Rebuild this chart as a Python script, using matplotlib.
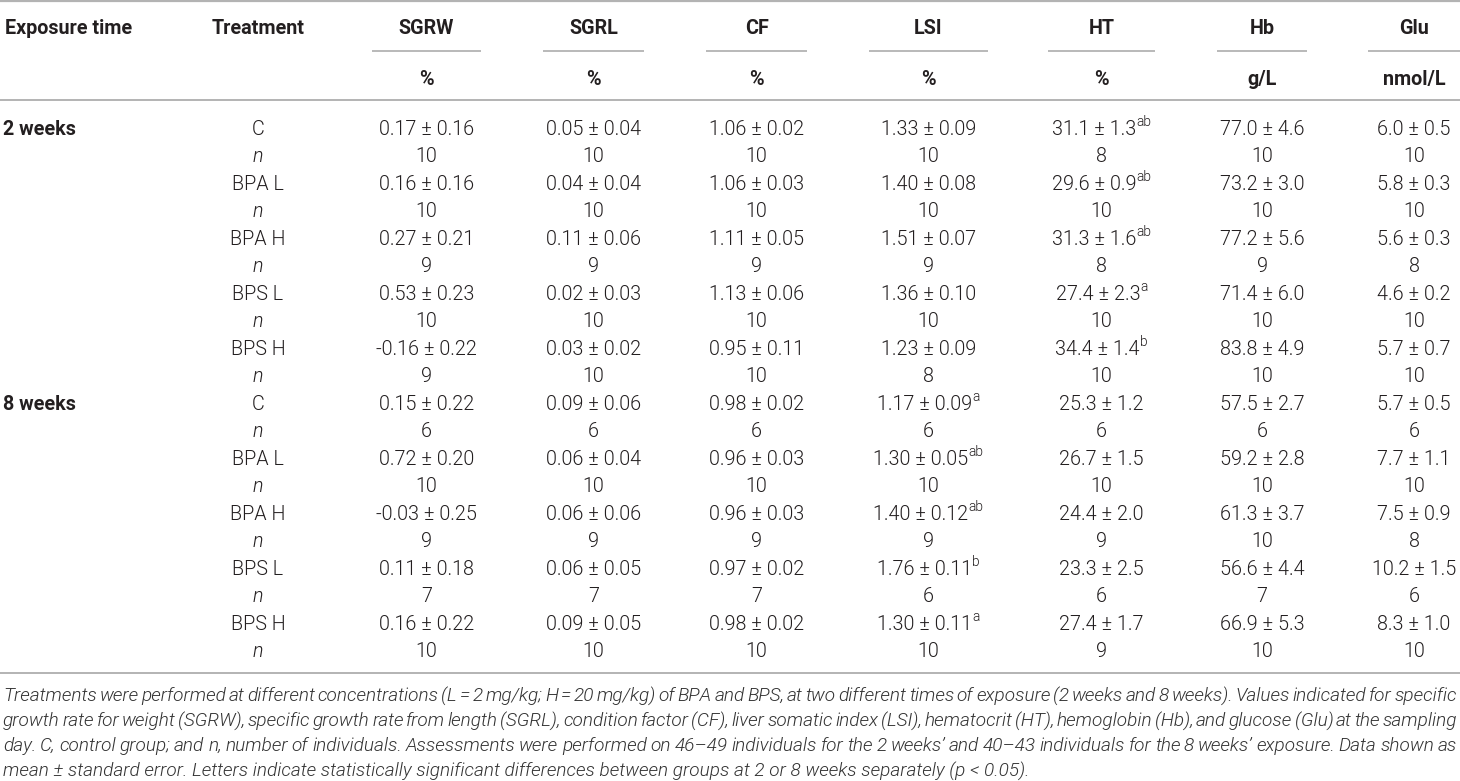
import matplotlib
matplotlib.use('Agg')
import matplotlib.pyplot as plt
from matplotlib import font_manager

# ---------------- data ----------------
exposure_labels = ["2 weeks", "8 weeks"]
treatments = ["C", "BPA L", "BPA H", "BPS L", "BPS H"]
columns = ["SGRW", "SGRL", "CF", "LSI", "HT", "Hb", "Glu"]
units = ["%", "%", "%", "%", "%", "g/L", "nmol/L"]
decimals = [2, 2, 2, 2, 1, 1, 1]

# rows: 2 weeks C, BPA L, BPA H, BPS L, BPS H, 8 weeks C, BPA L, BPA H, BPS L, BPS H
sgrw_mean = [0.17, 0.16, 0.27, 0.53, -0.16, 0.15, 0.72, -0.03, 0.11, 0.16]
sgrw_se = [0.16, 0.16, 0.21, 0.23, 0.22, 0.22, 0.20, 0.25, 0.18, 0.22]
sgrw_n = [10, 10, 9, 10, 9, 6, 10, 9, 7, 10]

sgrl_mean = [0.05, 0.04, 0.11, 0.02, 0.03, 0.09, 0.06, 0.06, 0.06, 0.09]
sgrl_se = [0.04, 0.04, 0.06, 0.03, 0.02, 0.06, 0.04, 0.06, 0.05, 0.05]
sgrl_n = [10, 10, 9, 10, 10, 6, 10, 9, 7, 10]

cf_mean = [1.06, 1.06, 1.11, 1.13, 0.95, 0.98, 0.96, 0.96, 0.97, 0.98]
cf_se = [0.02, 0.03, 0.05, 0.06, 0.11, 0.02, 0.03, 0.03, 0.02, 0.02]
cf_n = [10, 10, 9, 10, 10, 6, 10, 9, 7, 10]

lsi_mean = [1.33, 1.40, 1.51, 1.36, 1.23, 1.17, 1.30, 1.40, 1.76, 1.30]
lsi_se = [0.09, 0.08, 0.07, 0.10, 0.09, 0.09, 0.05, 0.12, 0.11, 0.11]
lsi_n = [10, 10, 9, 10, 8, 6, 10, 9, 6, 10]
lsi_letters = ["", "", "", "", "", "a", "ab", "ab", "b", "a"]

ht_mean = [31.1, 29.6, 31.3, 27.4, 34.4, 25.3, 26.7, 24.4, 23.3, 27.4]
ht_se = [1.3, 0.9, 1.6, 2.3, 1.4, 1.2, 1.5, 2.0, 2.5, 1.7]
ht_n = [8, 10, 8, 10, 10, 6, 10, 9, 6, 9]
ht_letters = ["ab", "ab", "ab", "a", "b", "", "", "", "", ""]

hb_mean = [77.0, 73.2, 77.2, 71.4, 83.8, 57.5, 59.2, 61.3, 56.6, 66.9]
hb_se = [4.6, 3.0, 5.6, 6.0, 4.9, 2.7, 2.8, 3.7, 4.4, 5.3]
hb_n = [10, 10, 9, 10, 10, 6, 10, 10, 7, 10]

glu_mean = [6.0, 5.8, 5.6, 4.6, 5.7, 5.7, 7.7, 7.5, 10.2, 8.3]
glu_se = [0.5, 0.3, 0.3, 0.2, 0.7, 0.5, 1.1, 0.9, 1.5, 1.0]
glu_n = [10, 10, 8, 10, 10, 6, 10, 8, 6, 10]

no_letters = [""] * 10
col_means = [sgrw_mean, sgrl_mean, cf_mean, lsi_mean, ht_mean, hb_mean, glu_mean]
col_ses = [sgrw_se, sgrl_se, cf_se, lsi_se, ht_se, hb_se, glu_se]
col_ns = [sgrw_n, sgrl_n, cf_n, lsi_n, ht_n, hb_n, glu_n]
col_letters = [no_letters, no_letters, no_letters, lsi_letters, ht_letters, no_letters, no_letters]

footnote_lines = [
    "Treatments were performed at different concentrations (L = 2 mg/kg; H = 20 mg/kg) of BPA and BPS, at two different times of exposure (2 weeks and 8 weeks). Values indicated for specific",
    "growth rate for weight (SGRW), specific growth rate from length (SGRL), condition factor (CF), liver somatic index (LSI), hematocrit (HT), hemoglobin (Hb), and glucose (Glu) at the sampling",
    "day. C, control group; and n, number of individuals. Assessments were performed on 46\u201349 individuals for the 2 weeks\u2019 and 40\u201343 individuals for the 8 weeks\u2019 exposure. Data shown as",
    "mean \u00b1 standard error. Letters indicate statistically significant differences between groups at 2 or 8 weeks separately (p < 0.05).",
]

# ---------------- layout / style ----------------
W, H = 1460, 781
fig = plt.figure(figsize=(W / 100, H / 100), dpi=100)
ax = fig.add_axes([0, 0, 1, 1])
ax.set_xlim(0, W)
ax.set_ylim(H, 0)
ax.axis('off')

FAM = ['Roboto', 'DejaVu Sans']
installed = {f.name for f in font_manager.fontManager.ttflist}
FOOT_FAM = (['Liberation Sans Narrow', 'DejaVu Sans']
            if 'Liberation Sans Narrow' in installed else FAM)
TXT = '#231f20'
RULE = '#b3b3b3'
FS = 14.2           # points (dpi 100)
PX = FS * 100 / 72  # font size in pixels
CAP = 0.36 * PX     # half cap height -> baseline offset

col_x = [426.5, 593.5, 756.5, 928.5, 1101.5, 1262, 1414]
col_half = [54.5, 50.5, 50.5, 59.5, 53.5, 45, 46]
treat_x = 258
left_x = 3
row0, drow = 127.5, 27.5
head_y, unit_y, uline_y = 27, 78, 51

renderer = fig.canvas.get_renderer()


def text_width(s, **kw):
    t = ax.text(0, 0, s, **kw)
    w = t.get_window_extent(renderer=renderer).width
    t.remove()
    return w


def put(x, yc, s, ha='center', weight=300, style='normal', size=FS):
    ax.text(x, yc + CAP * size / FS, s, ha=ha, va='baseline', fontsize=size,
            family=FAM, fontweight=weight, fontstyle=style, color=TXT)


# rules
ax.plot([0, W], [1.2, 1.2], color=RULE, lw=1.6, solid_capstyle='butt')
ax.plot([0, W], [100, 100], color=RULE, lw=1.4, solid_capstyle='butt')
ax.plot([0, W], [673, 673], color=RULE, lw=1.4, solid_capstyle='butt')
for cx, hw in zip(col_x, col_half):
    ax.plot([cx - hw, cx + hw], [uline_y, uline_y], color=RULE, lw=1.3,
            solid_capstyle='butt')

# header
put(left_x + 2, head_y, "Exposure time", ha='left', weight='bold')
put(treat_x, head_y, "Treatment", weight='bold')
for cx, name, u in zip(col_x, columns, units):
    put(cx, head_y, name, weight='bold')
    put(cx, unit_y, u, weight='bold')

# body
for g, glabel in enumerate(exposure_labels):
    put(left_x, row0 + drow * (10 * g), glabel, ha='left', weight='bold')
    for t, tname in enumerate(treatments):
        r = g * 5 + t
        y_val = row0 + drow * (2 * r)
        y_n = y_val + drow
        put(treat_x, y_val, tname)
        put(treat_x, y_n, "n", style='italic')
        for c in range(len(columns)):
            d = decimals[c]
            s = f"{col_means[c][r]:.{d}f} \u00b1 {col_ses[c][r]:.{d}f}"
            sup = col_letters[c][r]
            if sup:
                kw = dict(fontsize=FS, family=FAM, fontweight=300)
                w1 = text_width(s, **kw)
                sfs = FS * 0.7
                w2 = text_width(sup, fontsize=sfs, family=FAM, fontweight=300)
                x0 = col_x[c] - (w1 + w2) / 2
                ax.text(x0, y_val + CAP, s, ha='left', va='baseline', color=TXT, **kw)
                ax.text(x0 + w1, y_val + CAP - 0.42 * PX, sup, ha='left',
                        va='baseline', fontsize=sfs, family=FAM, fontweight=300,
                        color=TXT)
            else:
                put(col_x[c], y_val, s)
            put(col_x[c], y_n, str(col_ns[c][r]))

# footnote (justified)
foot_y = [694.5, 719.5, 744.5, 769.5]
target_last = 1022.0
probe = 12.0
fweight = 300 if FOOT_FAM is FAM else 'normal'
w_last = text_width(footnote_lines[-1], fontsize=probe, family=FOOT_FAM,
                    fontstyle='italic', fontweight=fweight)
ffs = probe * target_last / w_last
fcap = 0.36 * ffs * 100 / 72
right_edge = W - 3
fkw = dict(fontsize=ffs, family=FOOT_FAM, fontstyle='italic', fontweight=fweight,
           color='#333333')
for i, (line, yc) in enumerate(zip(footnote_lines, foot_y)):
    if i < len(footnote_lines) - 1:
        words = line.split(' ')
        widths = [text_width(wd, **fkw) for wd in words]
        gap = (right_edge - left_x - sum(widths)) / (len(words) - 1)
        x = left_x
        for wd, wdw in zip(words, widths):
            ax.text(x, yc + fcap, wd, ha='left', va='baseline', **fkw)
            x += wdw + gap
    else:
        ax.text(left_x, yc + fcap, line, ha='left', va='baseline', **fkw)

fig.savefig('out.png', dpi=100, facecolor='white')
